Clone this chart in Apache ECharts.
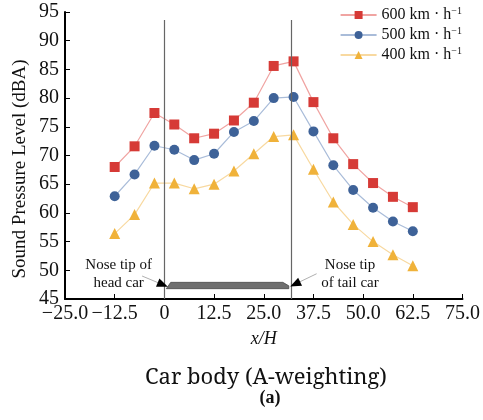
<!DOCTYPE html>
<html>
<head>
<meta charset="utf-8">
<script src="https://cdn.jsdelivr.net/npm/echarts@6/dist/echarts.min.js"></script>
<style>
  html, body { margin: 0; padding: 0; background: #fff; }
  #chart { width: 483px; height: 420px; }
</style>
</head>
<body>
<div id="chart"></div>
<script>
// x/H positions of the probes
var positions = [-12.5, -7.5, -2.5, 2.5, 7.5, 12.5, 17.5, 22.5, 27.5, 32.5, 37.5, 42.5, 47.5, 52.5, 57.5, 62.5];
var spl600 = [68.0, 71.6, 77.4, 75.4, 73.0, 73.8, 76.1, 79.2, 85.6, 86.4, 79.3, 73.0, 68.5, 65.2, 62.8, 61.0];
var spl500 = [62.9, 66.7, 71.7, 71.0, 69.2, 70.3, 74.1, 76.0, 80.0, 80.2, 74.2, 68.3, 64.0, 60.9, 58.5, 56.8];
var spl400 = [56.4, 59.7, 65.2, 65.2, 64.2, 65.0, 67.3, 70.3, 73.3, 73.6, 67.6, 61.9, 58.0, 55.0, 52.7, 50.8];
var seriesNames = ['600 km · h', '500 km · h', '400 km · h'];
// nose tips of head and tail car (x/H)
var headTip = 0;
var tailTip = 31.8;
// car body outline in data units
var carBody = [[0.5, 46.8], [1.6, 47.9], [29.8, 47.9], [31.3, 47.3], [31.3, 46.8]];

var serif = 'Liberation Serif';

function pairs(ys) {
    return positions.map(function (x, i) { return [x, ys[i]]; });
}

// thin grey leader line plus a short black piece carrying the arrow head
function arrow(from, to) {
    var k = 0.06;
    var near = [to[0] - (to[0] - from[0]) * k, to[1] - (to[1] - from[1]) * k];
    return [
        [{ coord: from, symbol: 'none', lineStyle: { color: '#9a9a9a', width: 0.8, type: 'solid' } },
         { coord: near, symbol: 'none' }],
        [{ coord: near, symbol: 'none', lineStyle: { color: '#000', width: 1, type: 'solid' } },
         { coord: to, symbol: 'triangle', symbolSize: [9, 11] }]
    ];
}

var myChart = echarts.init(document.getElementById('chart'));
myChart.setOption({
    animation: false,
    textStyle: { fontFamily: serif, color: '#111' },
    grid: { left: 65, right: 17, top: 12, bottom: 121 },
    legend: {
        orient: 'vertical',
        right: 16,
        top: 1,
        itemGap: 3,
        itemWidth: 36,
        itemHeight: 10,
        data: seriesNames,
        formatter: function (name) { return '{a|' + name + '}{s|−1}'; },
        textStyle: {
            fontFamily: serif,
            fontSize: 16,
            color: '#111',
            rich: {
                a: { fontFamily: serif, fontSize: 16, color: '#111' },
                s: { fontFamily: serif, fontSize: 10, color: '#111', verticalAlign: 'top', padding: [0, 0, 8, 0] }
            }
        }
    },
    title: [{
        text: 'Car body (A-weighting)',
        left: 261,
        top: 362,
        textAlign: 'center',
        textStyle: { fontFamily: 'Noto Serif, DejaVu Serif, serif', fontSize: 22, fontWeight: 'normal', color: '#111' }
    }, {
        text: '(a)',
        left: 265,
        top: 384,
        textAlign: 'center',
        textStyle: { fontFamily: serif, fontSize: 18, fontWeight: 'bold', color: '#111' }
    }],
    graphic: [{
        type: 'text',
        x: 20,
        y: 169,
        rotation: Math.PI / 2,
        style: {
            text: 'Sound Pressure Level (dBA)',
            font: '19px "Liberation Serif"',
            fill: '#111',
            align: 'center',
            verticalAlign: 'middle'
        }
    }],
    xAxis: {
        type: 'value',
        min: -25,
        max: 75,
        interval: 12.5,
        name: 'x/H',
        nameLocation: 'middle',
        nameGap: 31,
        nameTextStyle: { fontFamily: serif, fontSize: 18, fontStyle: 'italic', color: '#111' },
        splitLine: { show: false },
        axisLine: { show: true, onZero: false, lineStyle: { color: '#000', width: 2 } },
        axisTick: { show: true, inside: true, length: 5, lineStyle: { color: '#000', width: 1 } },
        axisLabel: {
            fontFamily: serif,
            fontSize: 20,
            color: '#111',
            margin: 5,
            formatter: function (v) { return v === 0 ? '0' : (v < 0 ? '−' : '') + Math.abs(v).toFixed(1); }
        }
    },
    yAxis: {
        type: 'value',
        min: 45,
        max: 95,
        interval: 5,
        splitLine: { show: false },
        axisLine: { show: true, onZero: false, lineStyle: { color: '#000', width: 2 } },
        axisTick: { show: true, inside: true, length: 5, lineStyle: { color: '#000', width: 1 } },
        axisLabel: { fontFamily: serif, fontSize: 20, color: '#111', margin: 6 }
    },
    series: [{
        name: seriesNames[0],
        type: 'line',
        data: pairs(spl600),
        symbol: 'rect',
        symbolSize: 10,
        itemStyle: { color: '#D63A36' },
        lineStyle: { color: '#F0A4A2', width: 1.2 },
        z: 4,
        markLine: {
            silent: true,
            symbol: 'none',
            label: { show: false },
            lineStyle: { color: '#666', width: 1.2, type: 'solid' },
            data: [
                [{ coord: [headTip, 45] }, { coord: [headTip, 93.6] }],
                [{ coord: [tailTip, 45] }, { coord: [tailTip, 93.6] }]
            ]
        }
    }, {
        name: seriesNames[1],
        type: 'line',
        data: pairs(spl500),
        symbol: 'circle',
        symbolSize: 10,
        itemStyle: { color: '#3E6298' },
        lineStyle: { color: '#A9BCD9', width: 1.2 },
        z: 4
    }, {
        name: seriesNames[2],
        type: 'line',
        data: pairs(spl400),
        symbol: 'triangle',
        symbolSize: 11,
        itemStyle: { color: '#F0B23A' },
        lineStyle: { color: '#F8D9A0', width: 1.2 },
        z: 4
    }, {
        name: 'car',
        type: 'custom',
        silent: true,
        data: [0],
        renderItem: function (params, api) {
            var pts = carBody.map(function (p) { return api.coord(p); });
            return {
                type: 'polygon',
                shape: { points: pts },
                style: { fill: '#6F6F6F', stroke: '#4A4A4A', lineWidth: 0.8 }
            };
        },
        markLine: {
            silent: true,
            label: { show: false },
            data: arrow([-5.6, 49.0], [-0.4, 47.5]).concat(arrow([38.3, 49.4], [32.9, 47.6]))
        },
        markPoint: {
            silent: true,
            symbol: 'circle',
            symbolSize: 1,
            itemStyle: { color: 'rgba(0,0,0,0)' },
            label: {
                show: true,
                position: 'inside',
                fontFamily: serif,
                fontSize: 15,
                lineHeight: 18,
                color: '#111',
                align: 'center'
            },
            data: [
                { coord: [-11.5, 49.4], label: { formatter: 'Nose tip of\nhead car' } },
                { coord: [46.7, 49.4], label: { formatter: 'Nose tip\nof tail car' } }
            ]
        }
    }]
});
</script>
</body>
</html>
